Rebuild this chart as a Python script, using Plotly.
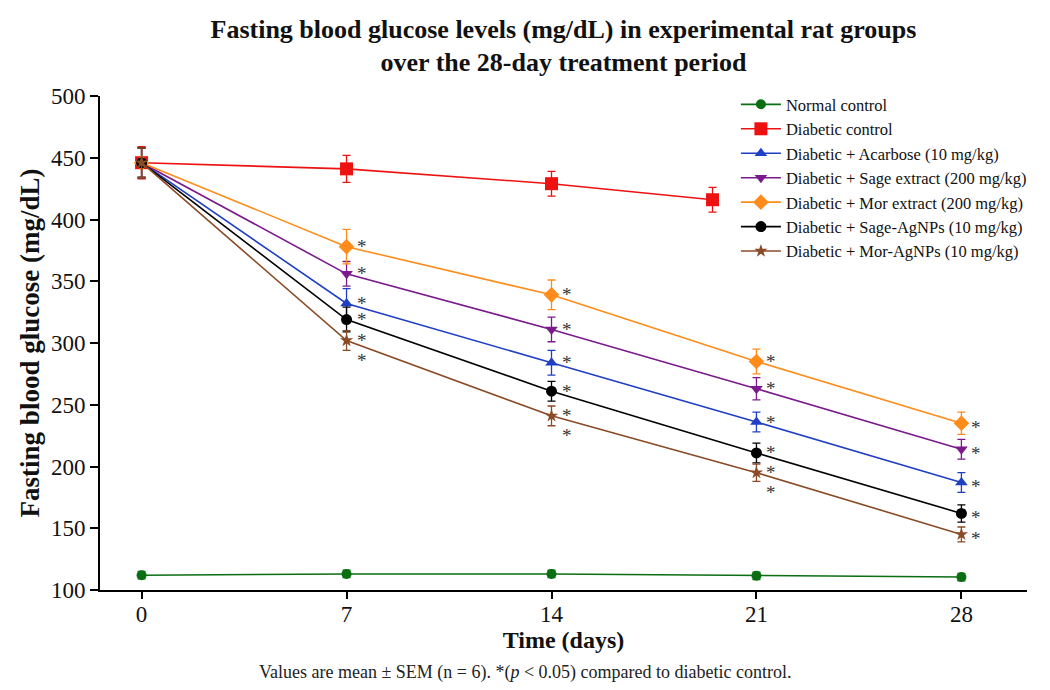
import plotly.graph_objects as go

# ---------------- data ----------------
days = [0, 7, 14, 21, 28]
dc_days = [0, 7, 14, 19.5]

normal = [112, 113, 113, 111.5, 110.5]
normal_sem = [3, 3, 3, 3, 3]
diabetic = [446, 441, 429, 416]
diabetic_sem = [13, 11, 10, 10]
acarbose = [446, 332, 284, 236, 187]
acarbose_sem = [12, 12, 10, 8, 8]
sage_ext = [446, 356, 311, 263, 214]
sage_ext_sem = [12, 10, 10, 9, 8]
mor_ext = [446, 378, 339, 285, 235]
mor_ext_sem = [12, 14, 12, 10, 9]
sage_ag = [446, 319, 261, 211, 162]
sage_ag_sem = [12, 10, 8, 8, 7]
mor_ag = [446, 302, 241, 195, 145]
mor_ag_sem = [12, 8, 8, 7, 6]

names = ["Normal control", "Diabetic control", "Diabetic + Acarbose (10 mg/kg)",
         "Diabetic + Sage extract (200 mg/kg)", "Diabetic + Mor extract (200 mg/kg)",
         "Diabetic + Sage-AgNPs (10 mg/kg)", "Diabetic + Mor-AgNPs (10 mg/kg)"]
x_ticks = [0, 7, 14, 21, 28]
y_ticks = [100, 150, 200, 250, 300, 350, 400, 450, 500]
sig_days = [7, 14, 21, 28]
extra_star_days = [7, 14, 21]

# ---------------- styles ----------------
series = [
    (days, normal, normal_sem, "#0a6e12", "circle", 10),
    (dc_days, diabetic, diabetic_sem, "#ee1111", "square", 13),
    (days, acarbose, acarbose_sem, "#1f3fc4", "triangle-up", 11),
    (days, sage_ext, sage_ext_sem, "#7a1a8c", "triangle-down", 11),
    (days, mor_ext, mor_ext_sem, "#ff8c1a", "diamond", 12),
    (days, sage_ag, sage_ag_sem, "#000000", "circle", 11),
    (days, mor_ag, mor_ag_sem, "#8b4a26", "star", 10),
]

fig = go.Figure()
for (xs, ys, es, col, sym, sz), nm in zip(series, names):
    fig.add_trace(go.Scatter(
        x=xs, y=ys, name=nm, mode="lines+markers",
        line=dict(color=col, width=1.6),
        marker=dict(color=col, symbol=sym, size=sz, line=dict(width=0)),
        error_y=dict(type="data", array=es, visible=True, color=col,
                     thickness=1.3, width=4),
    ))

FONT = "Liberation Serif"
STAR = dict(family=FONT, size=19, color="#333333")
annotations = []
treated = [acarbose, sage_ext, mor_ext, sage_ag, mor_ag]
for grp in treated:
    for d in sig_days:
        i = days.index(d)
        annotations.append(dict(x=d, y=grp[i], xref="x", yref="y", text="*",
                                showarrow=False, xshift=15,
                                yshift=(0 if d != 28 else -4), font=STAR))
for d in extra_star_days:
    i = days.index(d)
    annotations.append(dict(x=d, y=mor_ag[i], xref="x", yref="y", text="*",
                            showarrow=False, xshift=15, yshift=-20, font=STAR))

annotations.append(dict(x=0.4585, y=-0.166, xref="paper", yref="paper",
                        xanchor="center", yanchor="middle", showarrow=False,
                        text="Values are mean ± SEM (n = 6). *(<i>p</i> < 0.05) compared to diabetic control.",
                        font=dict(family=FONT, size=18, color="#222222")))

fig.update_layout(
    width=1050, height=690,
    paper_bgcolor="white", plot_bgcolor="white",
    margin=dict(l=92, r=31, t=88, b=108),
    title=dict(text="<b>Fasting blood glucose levels (mg/dL) in experimental rat groups<br>over the 28-day treatment period</b>",
               x=0.529, xanchor="center", y=0.957, yanchor="top",
               font=dict(family=FONT, size=26, color="#111111")),
    font=dict(family=FONT, color="#111111"),
    legend=dict(x=0.686, y=1.018, xanchor="left", yanchor="top",
                bgcolor="rgba(255,255,255,0)", font=dict(family=FONT, size=16.5, color="#111111"),
                tracegroupgap=0, itemwidth=40),
    showlegend=True,
    annotations=annotations,
)
fig.update_xaxes(range=[-1.42, 30.24], tickvals=x_ticks, ticktext=[str(v) for v in x_ticks],
                 showline=True, linecolor="black", linewidth=2, ticks="outside",
                 ticklen=7, tickwidth=2, tickcolor="black", showgrid=False, zeroline=False,
                 ticklabelstandoff=-5,
                 tickfont=dict(family=FONT, size=23, color="#111111"),
                 title=dict(text="<b>Time (days)</b>", font=dict(family=FONT, size=24, color="#111111"),
                            standoff=2))
fig.update_yaxes(range=[100, 500], tickvals=y_ticks,
                 showline=True, linecolor="black", linewidth=2, ticks="outside",
                 ticklen=8, tickwidth=2, tickcolor="black", showgrid=False, zeroline=False,
                 tickfont=dict(family=FONT, size=23, color="#111111"),
                 title=dict(text="<b>Fasting blood glucose (mg/dL)</b>", font=dict(family=FONT, size=27, color="#111111"),
                            standoff=3))

fig.write_html("out.html")
